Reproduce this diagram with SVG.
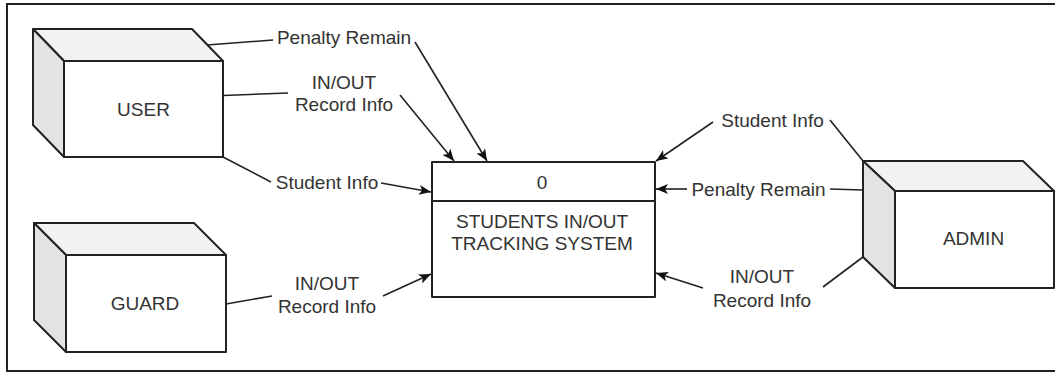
<svg xmlns="http://www.w3.org/2000/svg" width="1055" height="373" viewBox="0 0 1055 373">
  <style>
    .lbl { font-family: "Liberation Sans", Arial, sans-serif; font-size: 19px; fill: #333; text-anchor: middle; }
    .face { fill: #ffffff; stroke: #222; stroke-width: 2; stroke-linejoin: round; }
    .top { fill: #f2f2f2; stroke: #222; stroke-width: 2; stroke-linejoin: round; }
    .side { fill: #e3e3e3; stroke: #222; stroke-width: 2; stroke-linejoin: round; }
    .flow { fill: none; stroke: #222; stroke-width: 1.6; }
    .arrow { marker-end: url(#head); }
  </style>
  <defs>
    <marker id="head" viewBox="0 0 12 10" refX="12" refY="5" markerWidth="12" markerHeight="10" markerUnits="userSpaceOnUse" orient="auto">
      <path d="M0,0 L12,5 L0,10 L3,5 Z" fill="#111"/>
    </marker>
  </defs>

  <!-- frame -->
  <rect x="7" y="4" width="1060" height="367" fill="#fff" stroke="#222" stroke-width="2"/>

  <!-- external entity: USER -->
  <g id="user">
    <polygon class="top" points="33,29 192,29 223,61 64,61"/>
    <polygon class="side" points="33,29 64,61 64,157 33,125"/>
    <rect class="face" x="64" y="61" width="159" height="96"/>
    <text class="lbl" x="143.5" y="116">USER</text>
  </g>

  <!-- external entity: GUARD -->
  <g id="guard">
    <polygon class="top" points="34,223 194,223 226,255 66,255"/>
    <polygon class="side" points="34,223 66,255 66,352 34,320"/>
    <rect class="face" x="66" y="255" width="160" height="97"/>
    <text class="lbl" x="145" y="310">GUARD</text>
  </g>

  <!-- process 0 -->
  <g id="process">
    <rect class="face" x="432" y="162" width="223" height="135"/>
    <line x1="432" y1="201" x2="655" y2="201" stroke="#222" stroke-width="2"/>
    <text class="lbl" x="542" y="189">0</text>
    <text class="lbl" x="542" y="228">STUDENTS IN/OUT</text>
    <text class="lbl" x="542" y="250">TRACKING SYSTEM</text>
  </g>

  <!-- external entity: ADMIN -->
  <g id="admin">
    <polygon class="top" points="863,161 1023,161 1054,191 895,191"/>
    <polygon class="side" points="863,161 895,191 895,288 863,257"/>
    <rect class="face" x="895" y="191" width="159" height="97"/>
    <text class="lbl" x="973.5" y="245">ADMIN</text>
  </g>

  <!-- data flows -->
  <g id="connectors">
    <!-- USER: Penalty Remain -->
    <line class="flow" x1="207" y1="45" x2="273" y2="40"/>
    <line class="flow arrow" x1="415" y1="42" x2="487" y2="161"/>
    <text class="lbl" x="344" y="44">Penalty Remain</text>

    <!-- USER: IN/OUT Record Info -->
    <line class="flow" x1="223" y1="95.5" x2="288" y2="93"/>
    <line class="flow arrow" x1="400" y1="95" x2="454" y2="161"/>
    <text class="lbl" x="344" y="89">IN/OUT</text>
    <text class="lbl" x="344" y="111">Record Info</text>

    <!-- USER: Student Info -->
    <line class="flow" x1="223" y1="157" x2="271" y2="182"/>
    <line class="flow arrow" x1="381" y1="183" x2="431" y2="192"/>
    <text class="lbl" x="327" y="189">Student Info</text>

    <!-- GUARD: IN/OUT Record Info -->
    <line class="flow" x1="226" y1="304" x2="272" y2="296"/>
    <line class="flow arrow" x1="383" y1="296" x2="431" y2="274"/>
    <text class="lbl" x="327" y="290">IN/OUT</text>
    <text class="lbl" x="327" y="313">Record Info</text>

    <!-- ADMIN: Student Info -->
    <line class="flow" x1="830" y1="120" x2="863" y2="161"/>
    <line class="flow arrow" x1="713" y1="122" x2="656" y2="161"/>
    <text class="lbl" x="772.5" y="126.5">Student Info</text>

    <!-- ADMIN: Penalty Remain -->
    <line class="flow" x1="830" y1="189" x2="863" y2="190"/>
    <line class="flow arrow" x1="687" y1="189" x2="656" y2="189"/>
    <text class="lbl" x="758.5" y="196">Penalty Remain</text>

    <!-- ADMIN: IN/OUT Record Info -->
    <line class="flow" x1="823" y1="287" x2="863" y2="257"/>
    <line class="flow arrow" x1="703" y1="288" x2="656" y2="273"/>
    <text class="lbl" x="762" y="282.5">IN/OUT</text>
    <text class="lbl" x="762" y="306.5">Record Info</text>
  </g>
</svg>
